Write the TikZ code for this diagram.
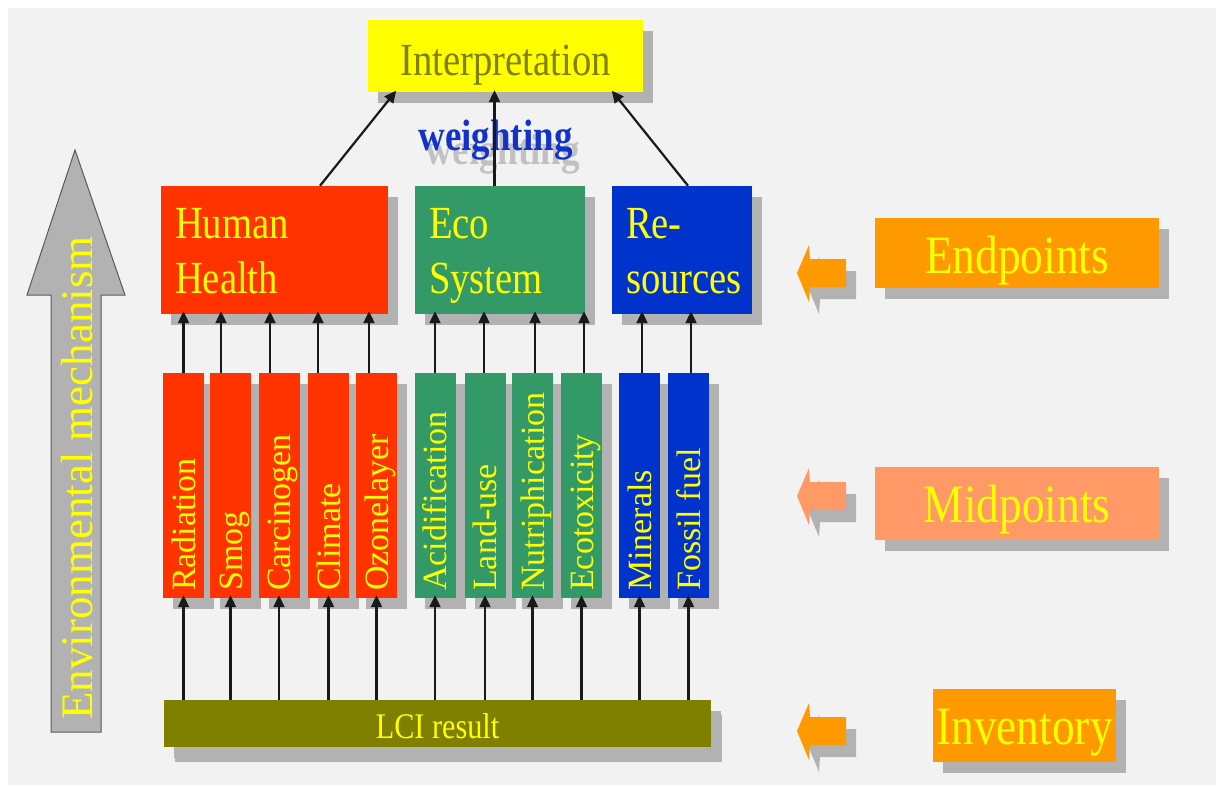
\documentclass[tikz,border=0pt]{standalone}
\usepackage{fontspec}
\usepackage{graphicx}
\setmainfont{Liberation Serif}
\usetikzlibrary{shadows,arrows.meta}
\definecolor{bgc}{HTML}{F2F2F2}
\definecolor{shadowc}{HTML}{B2B2B2}
\definecolor{redc}{HTML}{FF3300}
\definecolor{greenc}{HTML}{339966}
\definecolor{bluec}{HTML}{0033CC}
\definecolor{ytext}{HTML}{FFFF00}
\definecolor{yellc}{HTML}{FFFF00}
\definecolor{interpc}{HTML}{808000}
\definecolor{olivec}{HTML}{808000}
\definecolor{orangec}{HTML}{FF9900}
\definecolor{salmonc}{HTML}{FF9966}
\definecolor{wblue}{HTML}{1133CC}
\newcommand{\sq}[1]{\scalebox{0.84}[1]{#1}}
\newcommand{\fsz}[2]{\fontsize{#1}{#2}\selectfont}
\begin{document}
\begin{tikzpicture}[x=1pt,y=-1pt,
  shad/.style={general shadow={fill=shadowc, shadow xshift=10pt, shadow yshift=-11pt}},
  box/.style={shad, inner sep=0pt, text=ytext},
  midbox/.style={box, minimum width=41pt, minimum height=225pt},
  endbox/.style={box, minimum height=128pt, align=left, inner xsep=14pt,
    text height=31pt, text depth=55pt, font=\fsz{46}{55}},
  sidebox/.style={box, minimum width=284pt, font=\fsz{54}{54}, text depth=0pt},
  vlabel/.style={rotate=90, anchor=west, inner sep=0pt, text=ytext,
    font=\fsz{34}{34}, text height=23pt, text depth=0pt},
  arr/.style={-{Triangle[length=12pt,width=11pt]}, line width=2.2pt, draw=black!90},
]
\useasboundingbox (0,0) rectangle (1216,785);
\fill[bgc] (8,8) rectangle (1216,785);

% environmental mechanism arrow
\filldraw[fill=shadowc, draw=black!65, line width=1pt]
  (75,150) -- (125,295) -- (101,295) -- (101,732) -- (51,732) -- (51,295) -- (27,295) -- cycle;
\node[rotate=90, text=ytext, font=\fsz{45}{45}, inner sep=0pt] (envt) at (77,478) {Environmental mechanism};

% interpretation
\node[box, fill=yellc, minimum width=275pt, minimum height=72pt, text=interpc,
  font=\fsz{46}{46}, text height=38pt, text depth=0pt] (interp) at (505.5,56) {\sq{Interpretation}};

% weighting (with its grey shadow)
\node[font=\fsz{44}{44}\bfseries, text=shadowc!80!white, anchor=base, inner sep=0pt] (wsh) at (503,164) {\sq{weighting}};
\node[font=\fsz{44}{44}\bfseries, text=wblue, anchor=base, inner sep=0pt] (wt) at (495.5,150) {\sq{weighting}};

% endpoint boxes
\node[endbox, fill=redc, minimum width=227pt, text width=199pt] (hh) at (274.5,250) {\sq{Human}\\\sq{Health}};
\node[endbox, fill=greenc, minimum width=170pt, text width=142pt] (eco) at (500,250) {\sq{Eco}\\\sq{System}};
\node[endbox, fill=bluec, minimum width=140pt, text width=112pt] (res) at (682,250) {\sq{Re-}\\\sq{sources}};

% midpoint boxes
\foreach \n/\x/\c/\t in {m1/183.5/redc/Radiation, m2/230.5/redc/Smog, m3/279/redc/Carcinogen,
    m4/328.5/redc/Climate, m5/376.5/redc/Ozonelayer, m6/435/greenc/Acidification,
    m7/485/greenc/Land-use, m8/532.5/greenc/Nutriphication, m9/581.5/greenc/Ecotoxicity,
    m10/639.5/bluec/Minerals, m11/688.5/bluec/Fossil fuel}{
  \node[midbox, fill=\c] (\n) at (\x,485.5) {};
  \node[vlabel] (\n t) at (\x,591) {\t};
}

% LCI result
\node[box, fill=olivec, general shadow={fill=shadowc, shadow xshift=11pt, shadow yshift=-15pt},
  minimum width=547pt, minimum height=47pt, font=\fsz{36}{36}, text height=29pt, text depth=0pt]
  (lci) at (437.5,723.5) {\sq{LCI result}};

% right side labels
\node[sidebox, fill=orangec, minimum height=70pt, text height=40pt] (endp) at (1017,253) {\sq{Endpoints}};
\node[sidebox, fill=salmonc, minimum height=73pt, text height=37pt] (midp) at (1017,503.5) {\sq{Midpoints}};
\node[box, fill=orangec, minimum width=183pt, minimum height=73pt, font=\fsz{54}{54},
  text height=37pt, text depth=0pt] (inv) at (1024.5,725.5) {\sq{Inventory}};

% small left arrows
\foreach \dy/\c in {0/orangec, 223/salmonc, 458/orangec}{
  \begin{scope}[shift={(0,\dy)}]
    \fill[shadowc, shift={(10,12)}] (797,273) -- (809,245) -- (810,259) -- (846,259) -- (846,287) -- (810,287) -- (809,302) -- cycle;
    \fill[\c] (797,273) -- (809,245) -- (810,259) -- (846,259) -- (846,287) -- (810,287) -- (809,302) -- cycle;
  \end{scope}
}

% arrows LCI -> midpoints
\foreach \n in {m1,m2,m3,m4,m5,m6,m7,m8,m9,m10,m11}{
  \draw[arr, shorten >=-3pt] (lci.north -| \n) -- (\n.south);
}

% arrows midpoints -> endpoints
\foreach \n/\s/\p in {m1/0/hh, m2/-9.5/hh, m3/-9/hh, m4/-10.5/hh, m5/-7.5/hh,
    m6/0/eco, m7/-1/eco, m8/2.5/eco, m9/2.5/eco, m10/2.5/res, m11/2.5/res}{
  \coordinate (\n top) at ([xshift=\s pt]\n.north);
  \draw[arr, shorten >=-3pt] (\n top) -- (\n top |- \p.south);
}

% arrows endpoints -> interpretation
\coordinate (hha) at ([xshift=45.5pt]hh.north);
\coordinate (ia) at ([xshift=-110.5pt]interp.south);
\coordinate (ecoa) at ([xshift=-5.5pt]eco.north);
\coordinate (ib) at ([xshift=-11pt]interp.south);
\coordinate (resa) at ([xshift=6pt]res.north);
\coordinate (ic) at ([xshift=107.5pt]interp.south);
\draw[arr, shorten >=-2pt] (hha) -- (ia);
\draw[arr, shorten >=-2pt] (ecoa) -- (ib);
\draw[arr, shorten >=-2pt] (resa) -- (ic);
\end{tikzpicture}
\end{document}
